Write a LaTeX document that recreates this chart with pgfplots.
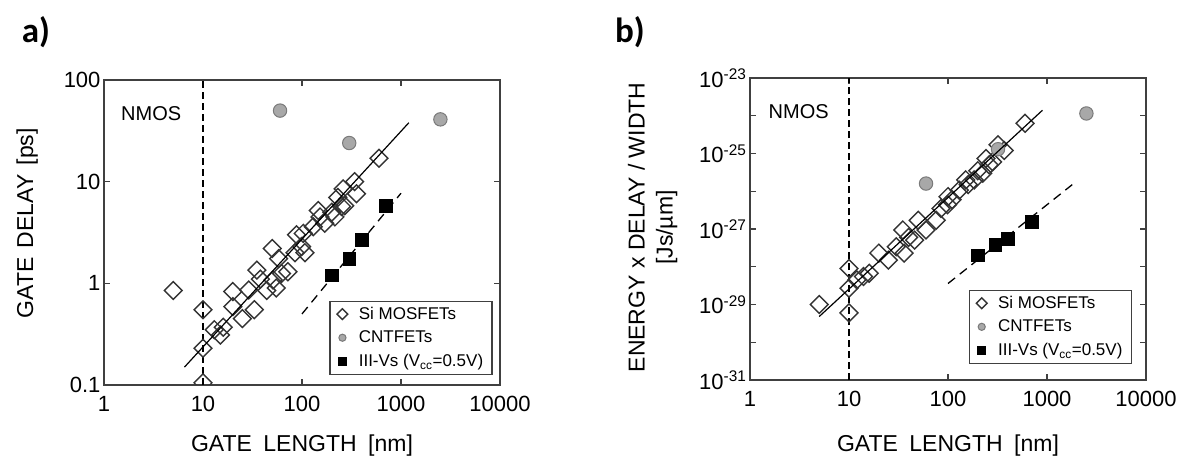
\documentclass[border=0pt]{standalone}
\usepackage{fontspec}
\setmainfont{Liberation Sans}
\newfontfamily\labfont{Carlito}
\usepackage{pgfplots}
\pgfplotsset{compat=1.18}
\definecolor{dia}{HTML}{333333}
\definecolor{cntfill}{HTML}{A8A8A8}
\definecolor{cntedge}{HTML}{7A7A7A}
\definecolor{frame}{HTML}{404040}

\begin{document}
\begin{tikzpicture}[x=1pt,y=1pt]
\useasboundingbox (0,0) rectangle (1188,457);
\node[font=\labfont\bfseries\fontsize{35}{38}\selectfont, anchor=center] at (36,425) {a)};
\node[font=\labfont\bfseries\fontsize{35}{38}\selectfont, anchor=center] at (630,425) {b)};

% ---------------- panel a ----------------
\begin{axis}[at={(104pt,72pt)}, anchor=south west,
  scale only axis, width=396pt, height=305pt,
  xmode=log, ymode=log, xmin=1, xmax=10000,
  xtick={1,10,100,1000,10000}, xticklabels={1,10,100,1000,10000},
  xminorticks=false, yminorticks=false,
  tick align=inside, major tick length=6pt,
  axis line style={line width=2pt, color=frame},
  every tick/.style={line width=1.3pt, color=frame},
  tick label style={font=\fontsize{22}{26}\selectfont},
  xticklabel style={yshift=-8pt},
  label style={font=\fontsize{23}{28}\selectfont},
  clip marker paths=true,
  legend cell align=left,
  legend style={draw=frame, line width=1.4pt, font=\fontsize{17}{20}\selectfont,
    row sep=6pt, inner xsep=7pt, inner ysep=4pt, at={(0.982,0.033)}, anchor=south east,
    /tikz/every odd column/.append style={column sep=9pt}},
  ymin=0.1, ymax=100,
  ytick={0.1,1,10,100}, yticklabels={0.1,1,10,100},
  xlabel={GATE\hspace{0.5em}LENGTH\hspace{0.5em}[nm]},
  ylabel={GATE\hspace{0.4em}DELAY\hspace{0.4em}[ps]},
  xlabel style={at={(axis description cs:0.5,-0.218)}, anchor=base},
  ylabel style={at={(axis description cs:-0.194,0.53)}, anchor=center},
]
\addplot[forget plot, black, line width=1.6pt, dash pattern=on 7pt off 4pt] coordinates {(10,0.1) (10,100)};
\addplot[only marks, mark=square, mark size=6.3pt,
    mark options={rotate=45, draw=dia, line width=1.4pt, fill=none},
    legend image post style={mark size=3.8pt}] coordinates {
(5,0.85) (10,0.55) (10,0.105) (10,0.23) (13,0.35) (15,0.31) (16,0.37)
(20,0.83) (20,0.59) (25,0.45) (29,0.86) (33,0.55) (35,1.35) (38,1.1)
(44,0.85) (50,2.2) (51,1.08) (55,0.9) (58,1.75) (62,1.25) (72,1.3)
(85,2.0) (88,3.0) (99,2.3) (103,3.1) (107,2.0) (130,3.6) (146,5.2)
(152,4.5) (170,3.9) (200,5.0) (215,4.5) (230,7.0) (251,5.7) (260,8.5)
(270,5.8) (340,10) (355,7.6) (600,17)
};
\addlegendentry{Si MOSFETs}
\addplot[only marks, mark=*, mark size=6.7pt,
    mark options={draw=cntedge, fill=cntfill, line width=1pt},
    legend image post style={mark size=3.6pt}] coordinates {(60,50) (300,24) (2500,41)};
\addlegendentry{CNTFETs}
\addplot[only marks, mark=square*, mark size=6.3pt,
    mark options={draw=black, fill=black},
    legend image post style={mark size=3.6pt}] coordinates {(200,1.2) (300,1.75) (400,2.7) (700,5.8)};
\addlegendentry{III-Vs (V\textsubscript{cc}=0.5V)}
\addplot[forget plot, black, line width=1.2pt] coordinates {(6.5,0.15) (1200,38)};
\addplot[forget plot, black, line width=1.3pt, dash pattern=on 9pt off 6pt] coordinates {(100,0.5) (1000,7.7)};
\node[font=\fontsize{20}{24}\selectfont] at (axis cs:3,47) {NMOS};
\end{axis}

% ---------------- panel b ----------------
\begin{axis}[at={(750pt,77pt)}, anchor=south west,
  scale only axis, width=396pt, height=302pt,
  xmode=log, ymode=log, xmin=1, xmax=10000,
  xtick={1,10,100,1000,10000}, xticklabels={1,10,100,1000,10000},
  xminorticks=false, yminorticks=false,
  tick align=inside, major tick length=6pt,
  axis line style={line width=2pt, color=frame},
  every tick/.style={line width=1.3pt, color=frame},
  tick label style={font=\fontsize{22}{26}\selectfont},
  xticklabel style={yshift=-8pt},
  label style={font=\fontsize{23}{28}\selectfont},
  clip marker paths=true,
  legend cell align=left,
  legend style={draw=frame, line width=1.4pt, font=\fontsize{17}{20}\selectfont,
    row sep=6pt, inner xsep=7pt, inner ysep=4pt, at={(0.965,0.053)}, anchor=south east,
    /tikz/every odd column/.append style={column sep=9pt}},
  ymin=1e-31, ymax=1e-23,
  ytick={1e-31,1e-30,1e-29,1e-28,1e-27,1e-26,1e-25,1e-24,1e-23},
  yticklabels={{10\textsuperscript{-31}},{},{10\textsuperscript{-29}},{},{10\textsuperscript{-27}},{},{10\textsuperscript{-25}},{},{10\textsuperscript{-23}}},
  xlabel={GATE\hspace{0.5em}LENGTH\hspace{0.5em}[nm]},
  ylabel={ENERGY x DELAY / WIDTH\\{[Js/µm]}},
  xlabel style={at={(axis description cs:0.5,-0.238)}, anchor=base},
  ylabel style={at={(axis description cs:-0.246,0.505)}, anchor=center, align=center},
]
\addplot[forget plot, black, line width=1.6pt, dash pattern=on 7pt off 4pt] coordinates {(10,1e-31) (10,1e-23)};
\addplot[only marks, mark=square, mark size=6.3pt,
    mark options={rotate=45, draw=dia, line width=1.4pt, fill=none},
    legend image post style={mark size=3.8pt}] coordinates {
(5,1.0e-29) (10,6e-30) (10,9e-29) (10,2.7e-29) (12,4.5e-29) (14,5.5e-29)
(16,6.7e-29) (20,2.3e-28) (25,1.5e-28) (30,3.4e-28) (35,9.4e-28) (36,2.3e-28)
(40,6e-28) (46,5.1e-28) (50,1.7e-27) (60,9.4e-28) (76,1.7e-27) (85,3.5e-27)
(99,4.4e-27) (100,7.2e-27) (110,6e-27) (130,1.07e-26) (151,2e-26) (160,1.5e-26)
(184,2e-26) (200,3.5e-26) (224,3e-26) (242,7.4e-26) (260,5e-26) (282,6e-26)
(320,1.7e-25) (370,1.2e-25) (600,6.3e-25)
};
\addlegendentry{Si MOSFETs}
\addplot[only marks, mark=*, mark size=6.7pt,
    mark options={draw=cntedge, fill=cntfill, line width=1pt},
    legend image post style={mark size=3.6pt}] coordinates {(60,1.6e-26) (320,1.3e-25) (2500,1.15e-24)};
\addlegendentry{CNTFETs}
\addplot[only marks, mark=square*, mark size=6.3pt,
    mark options={draw=black, fill=black},
    legend image post style={mark size=3.6pt}] coordinates {(200,2.0e-28) (300,3.8e-28) (400,5.6e-28) (700,1.55e-27)};
\addlegendentry{III-Vs (V\textsubscript{cc}=0.5V)}
\addplot[forget plot, black, line width=1.2pt] coordinates {(5,4.8e-30) (900,1.4e-24)};
\addplot[forget plot, black, line width=1.3pt, dash pattern=on 9pt off 6pt] coordinates {(100,3.6e-29) (1800,1.5e-26)};
\node[font=\fontsize{20}{24}\selectfont] at (axis cs:3.1,1.26e-24) {NMOS};
\end{axis}
\end{tikzpicture}
\end{document}
